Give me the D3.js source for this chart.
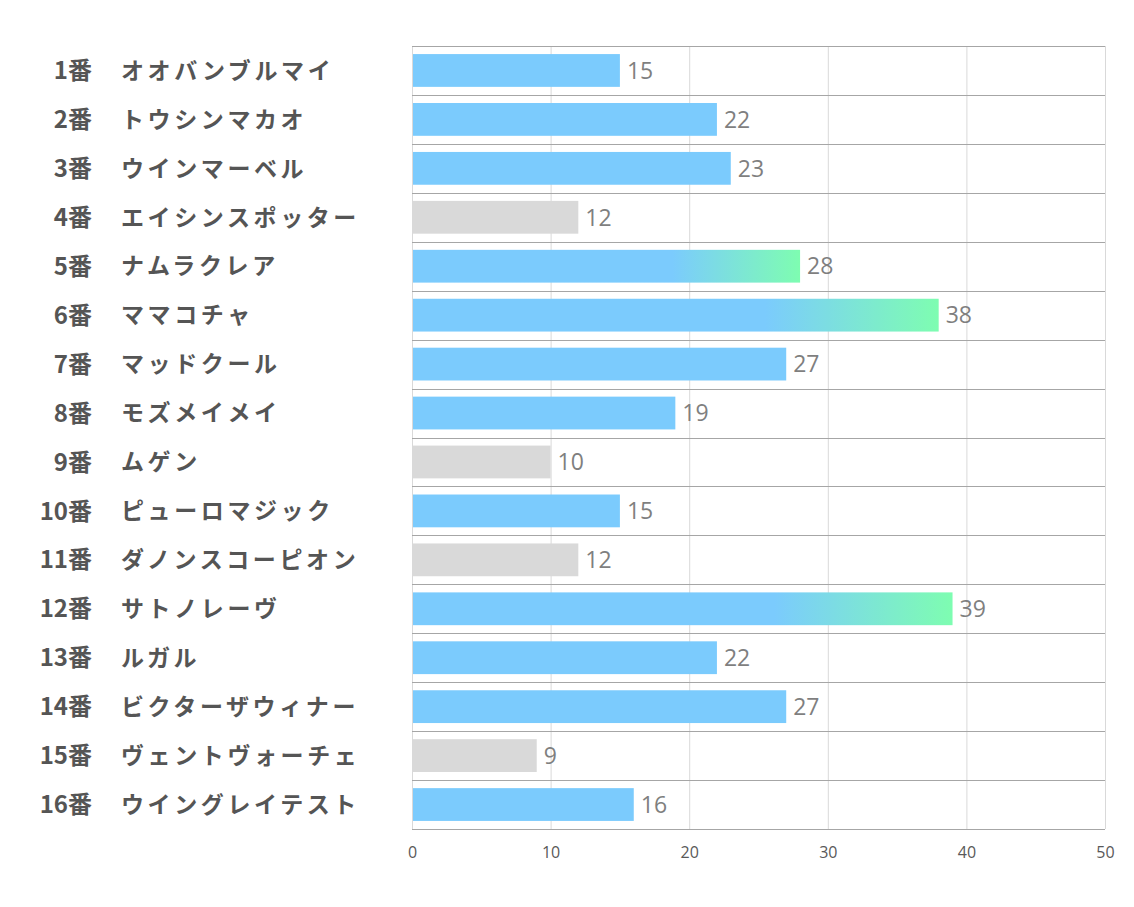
<!DOCTYPE html>
<html><head><meta charset="utf-8">
<script src="https://cdn.jsdelivr.net/npm/d3@7"></script>
<style>
body{margin:0;background:#fff;}
svg{display:block;}
</style></head>
<body><svg id="c" width="1134" height="907"></svg>
<script>
const numbers = ["1番","2番","3番","4番","5番","6番","7番","8番","9番","10番","11番","12番","13番","14番","15番","16番"];
const names = ["オオバンブルマイ","トウシンマカオ","ウインマーベル","エイシンスポッター","ナムラクレア","ママコチャ","マッドクール","モズメイメイ","ムゲン","ピューロマジック","ダノンスコーピオン","サトノレーヴ","ルガル","ビクターザウィナー","ヴェントヴォーチェ","ウイングレイテスト"];
const values = [15,22,23,12,28,38,27,19,10,15,12,39,22,27,9,16];
const kinds = ["blue","blue","blue","gray","grad","grad","blue","blue","gray","blue","gray","grad","blue","blue","gray","blue"];
const ticks = [0,10,20,30,40,50];

(function(){
const svg = d3.select("#c");
const pL = 412, pR = 1105, pT = 46, pB = 829;
const x = d3.scaleLinear().domain([0,50]).range([pL,pR]);
const y = d3.scaleBand().domain(d3.range(values.length)).range([pT,pB]).paddingInner(0.33).paddingOuter(0.165);
const rowY = d3.scaleBand().domain(d3.range(values.length)).range([pT,pB]);

const defs = svg.append("defs");
const g = defs.append("linearGradient").attr("id","grad").attr("x1","0").attr("x2","1").attr("y1","0").attr("y2","0");
g.append("stop").attr("offset","0").attr("stop-color","#7bcbfd");
g.append("stop").attr("offset","0.67").attr("stop-color","#7bcbfd");
g.append("stop").attr("offset","1").attr("stop-color","#7efdb1");

// vertical grid
svg.append("g").selectAll("line").data(ticks).join("line")
  .attr("x1",d=>x(d)+0.5).attr("x2",d=>x(d)+0.5).attr("y1",pT).attr("y2",pB)
  .attr("stroke","#d9d9d9").attr("stroke-width",1);

// horizontal row lines
svg.append("g").selectAll("line").data(d3.range(values.length+1)).join("line")
  .attr("x1",pL).attr("x2",pR)
  .attr("y1",d=>Math.round(pT + d*rowY.step())+0.5).attr("y2",d=>Math.round(pT + d*rowY.step())+0.5)
  .attr("stroke","#a6a6a6").attr("stroke-width",1);

// bars
const colorOf = k => k==="gray" ? "#d9d9d9" : (k==="grad" ? "url(#grad)" : "#7bcbfd");
svg.append("g").selectAll("rect").data(values).join("rect")
  .attr("x",x(0)+1).attr("y",(d,i)=>y(i)).attr("height",y.bandwidth())
  .attr("width",d=>x(d)-x(0)-1).attr("fill",(d,i)=>colorOf(kinds[i]));

// value labels
svg.append("g").selectAll("text").data(values).join("text")
  .attr("x",d=>x(d)+7).attr("y",(d,i)=>y(i)+y.bandwidth()/2).attr("dy","0.36em")
  .attr("font-family","'Open Sans','Noto Sans',sans-serif").attr("font-size",23)
  .attr("fill","#7f7f7f").text(d=>d);

// number labels
svg.append("g").selectAll("text").data(numbers).join("text")
  .attr("x",92).attr("y",(d,i)=>rowY(i)+rowY.bandwidth()/2).attr("dy","0.36em")
  .attr("text-anchor","end").attr("font-family","'Noto Sans CJK JP',sans-serif").attr("font-weight","bold")
  .attr("font-size",24).attr("fill","#555555").text(d=>d);

// name labels
svg.append("g").selectAll("text").data(names).join("text")
  .attr("x",121).attr("y",(d,i)=>rowY(i)+rowY.bandwidth()/2).attr("dy","0.36em")
  .attr("font-family","'Noto Sans CJK JP',sans-serif").attr("font-weight","bold")
  .attr("font-size",23).attr("fill","#555555").attr("letter-spacing","3.6").text(d=>d);

// x axis tick labels
const ax = svg.append("g").attr("transform",`translate(0,${pB})`)
  .call(d3.axisBottom(x).tickValues(ticks).tickSize(0).tickPadding(18).tickFormat(d3.format("d")));
ax.select(".domain").remove();
ax.selectAll("text").attr("font-family","'Open Sans','Noto Sans',sans-serif").attr("font-size",16).attr("fill","#595959");
})();
</script></body></html>
